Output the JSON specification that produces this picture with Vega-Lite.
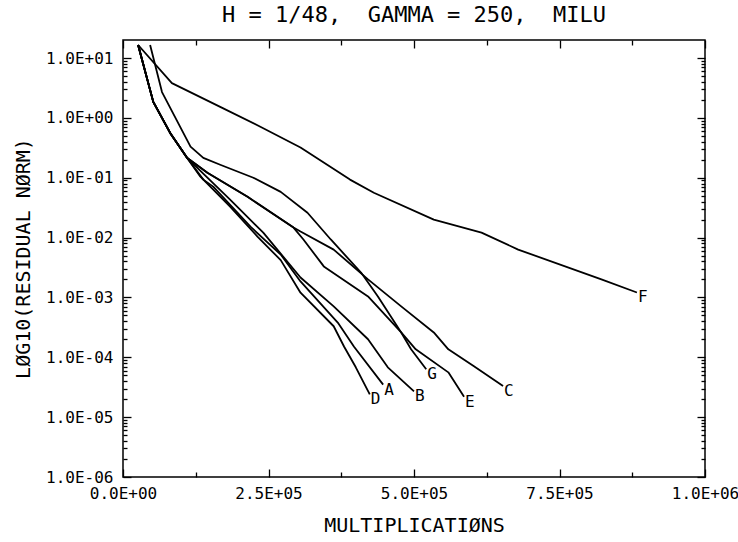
{
  "$schema": "https://vega.github.io/schema/vega-lite/v6.json",
  "width": 582,
  "height": 437,
  "autosize": "none",
  "padding": {"left": 123, "top": 40, "right": 33, "bottom": 65},
  "background": "white",
  "config": {
    "view": {"stroke": "black", "strokeWidth": 1.5},
    "font": "DejaVu Sans Mono",
    "axis": {
      "grid": false,
      "domain": false,
      "tickColor": "black",
      "tickWidth": 1.3,
      "labelColor": "black",
      "titleColor": "black",
      "labelFont": "DejaVu Sans Mono",
      "titleFont": "DejaVu Sans Mono",
      "labelFontSize": 16,
      "titleFontSize": 20,
      "titleFontWeight": "normal",
      "labelOverlap": false,
      "labelFlush": false,
      "labelBound": false
    }
  },
  "title": {
    "text": "H = 1/48,\u00a0\u00a0GAMMA = 250,\u00a0\u00a0MILU",
    "font": "DejaVu Sans Mono",
    "fontSize": 22,
    "fontWeight": "normal",
    "color": "black",
    "anchor": "middle",
    "offset": 12
  },
  "data": {
    "values": [
      {"c": "F", "x": 26000, "y": 16.5},
      {"c": "F", "x": 84000, "y": 3.8},
      {"c": "F", "x": 167000, "y": 1.53},
      {"c": "F", "x": 236000, "y": 0.71},
      {"c": "F", "x": 305000, "y": 0.32},
      {"c": "F", "x": 390000, "y": 0.093},
      {"c": "F", "x": 431000, "y": 0.056},
      {"c": "F", "x": 534000, "y": 0.02},
      {"c": "F", "x": 616000, "y": 0.0121},
      {"c": "F", "x": 679000, "y": 0.0063},
      {"c": "F", "x": 822000, "y": 0.002},
      {"c": "F", "x": 883000, "y": 0.00121},

      {"c": "G", "x": 46600, "y": 16.5},
      {"c": "G", "x": 67000, "y": 2.7},
      {"c": "G", "x": 116000, "y": 0.33},
      {"c": "G", "x": 138000, "y": 0.215},
      {"c": "G", "x": 167000, "y": 0.165},
      {"c": "G", "x": 224000, "y": 0.1},
      {"c": "G", "x": 271000, "y": 0.058},
      {"c": "G", "x": 317000, "y": 0.026},
      {"c": "G", "x": 357000, "y": 0.0093},
      {"c": "G", "x": 409000, "y": 0.0026},
      {"c": "G", "x": 438000, "y": 0.00104},
      {"c": "G", "x": 478000, "y": 0.00026},
      {"c": "G", "x": 495000, "y": 0.000136},
      {"c": "G", "x": 521000, "y": 0.000063},

      {"c": "C", "x": 26000, "y": 16.5},
      {"c": "C", "x": 52000, "y": 1.85},
      {"c": "C", "x": 81000, "y": 0.56},
      {"c": "C", "x": 110000, "y": 0.215},
      {"c": "C", "x": 145000, "y": 0.121},
      {"c": "C", "x": 214000, "y": 0.048},
      {"c": "C", "x": 293000, "y": 0.0147},
      {"c": "C", "x": 305000, "y": 0.0126},
      {"c": "C", "x": 362000, "y": 0.0063},
      {"c": "C", "x": 421000, "y": 0.002},
      {"c": "C", "x": 478000, "y": 0.00071},
      {"c": "C", "x": 534000, "y": 0.00026},
      {"c": "C", "x": 559000, "y": 0.000136},
      {"c": "C", "x": 603000, "y": 0.000071},
      {"c": "C", "x": 653000, "y": 0.000033},

      {"c": "E", "x": 26000, "y": 16.5},
      {"c": "E", "x": 52000, "y": 1.85},
      {"c": "E", "x": 81000, "y": 0.56},
      {"c": "E", "x": 110000, "y": 0.215},
      {"c": "E", "x": 145000, "y": 0.121},
      {"c": "E", "x": 214000, "y": 0.048},
      {"c": "E", "x": 293000, "y": 0.0147},
      {"c": "E", "x": 310000, "y": 0.0093},
      {"c": "E", "x": 345000, "y": 0.0033},
      {"c": "E", "x": 421000, "y": 0.00104},
      {"c": "E", "x": 478000, "y": 0.00026},
      {"c": "E", "x": 503000, "y": 0.000136},
      {"c": "E", "x": 559000, "y": 0.000056},
      {"c": "E", "x": 586000, "y": 0.000022},

      {"c": "B", "x": 26000, "y": 16.5},
      {"c": "B", "x": 52000, "y": 1.85},
      {"c": "B", "x": 81000, "y": 0.56},
      {"c": "B", "x": 110000, "y": 0.215},
      {"c": "B", "x": 184000, "y": 0.043},
      {"c": "B", "x": 241000, "y": 0.0121},
      {"c": "B", "x": 305000, "y": 0.00215},
      {"c": "B", "x": 362000, "y": 0.00071},
      {"c": "B", "x": 421000, "y": 0.0002},
      {"c": "B", "x": 455000, "y": 0.000068},
      {"c": "B", "x": 500000, "y": 0.000027},

      {"c": "A", "x": 26000, "y": 16.5},
      {"c": "A", "x": 52000, "y": 1.85},
      {"c": "A", "x": 81000, "y": 0.56},
      {"c": "A", "x": 110000, "y": 0.215},
      {"c": "A", "x": 138000, "y": 0.093},
      {"c": "A", "x": 155000, "y": 0.071},
      {"c": "A", "x": 219000, "y": 0.0152},
      {"c": "A", "x": 271000, "y": 0.0052},
      {"c": "A", "x": 305000, "y": 0.00185},
      {"c": "A", "x": 369000, "y": 0.00038},
      {"c": "A", "x": 397000, "y": 0.00015},
      {"c": "A", "x": 447000, "y": 0.000035},

      {"c": "D", "x": 26000, "y": 16.5},
      {"c": "D", "x": 52000, "y": 1.85},
      {"c": "D", "x": 81000, "y": 0.56},
      {"c": "D", "x": 110000, "y": 0.215},
      {"c": "D", "x": 133000, "y": 0.104},
      {"c": "D", "x": 184000, "y": 0.033},
      {"c": "D", "x": 231000, "y": 0.0104},
      {"c": "D", "x": 271000, "y": 0.0042},
      {"c": "D", "x": 305000, "y": 0.0012},
      {"c": "D", "x": 362000, "y": 0.00033},
      {"c": "D", "x": 380000, "y": 0.00015},
      {"c": "D", "x": 400000, "y": 0.000068},
      {"c": "D", "x": 424000, "y": 0.000024}
    ]
  },
  "resolve": {"axis": {"x": "independent", "y": "independent"}},
  "layer": [
    {
      "mark": {"type": "line", "color": "black", "strokeWidth": 1.8, "strokeJoin": "round"},
      "encoding": {
        "x": {
          "field": "x", "type": "quantitative",
          "scale": {"domain": [0, 1000000], "nice": false, "zero": false},
          "axis": {
            "orient": "bottom",
            "title": "MULTIPLICATIØNS",
            "values": [0, 125000, 250000, 375000, 500000, 625000, 750000, 875000, 1000000],
            "labelExpr": "datum.value % 250000 == 0 ? upper(replace(format(datum.value, '.1e'), 'e+', 'e+0')) : ''",
            "tickSize": {"condition": {"test": "datum.value % 250000 == 0", "value": -8}, "value": -5},
            "labelPadding": 16,
            "titleY": 48,
            "titleBaseline": "middle"
          }
        },
        "y": {
          "field": "y", "type": "quantitative",
          "scale": {"type": "log", "domain": [0.000001, 20], "nice": false},
          "axis": {
            "orient": "left",
            "title": "LØG10(RESIDUAL NØRM)",
            "values": [1e-6,2e-6,3e-6,4e-6,5e-6,6e-6,7e-6,8e-6,9e-6,1e-5,2e-5,3e-5,4e-5,5e-5,6e-5,7e-5,8e-5,9e-5,1e-4,2e-4,3e-4,4e-4,5e-4,6e-4,7e-4,8e-4,9e-4,1e-3,2e-3,3e-3,4e-3,5e-3,6e-3,7e-3,8e-3,9e-3,1e-2,2e-2,3e-2,4e-2,5e-2,6e-2,7e-2,8e-2,9e-2,0.1,0.2,0.3,0.4,0.5,0.6,0.7,0.8,0.9,1,2,3,4,5,6,7,8,9,10],
            "labelExpr": "abs(log(datum.value)/LN10 - round(log(datum.value)/LN10)) < 0.01 ? '1.0E' + (round(log(datum.value)/LN10) < 0 ? '-0' : '+0') + abs(round(log(datum.value)/LN10)) : ''",
            "tickSize": {"condition": {"test": "abs(log(datum.value)/LN10 - round(log(datum.value)/LN10)) < 0.01", "value": -8}, "value": -4},
            "labelPadding": 18,
            "titleX": -100,
            "titleY": 218,
            "titleAlign": "center",
            "titleBaseline": "middle",
            "titleAngle": -90
          }
        },
        "detail": {"field": "c", "type": "nominal"}
      }
    },
    {
      "transform": [
        {"joinaggregate": [{"op": "max", "field": "x", "as": "maxx"}], "groupby": ["c"]},
        {"filter": "datum.x == datum.maxx"}
      ],
      "mark": {"type": "text", "align": "left", "baseline": "middle", "dx": 1, "dy": 5, "fontSize": 16, "font": "DejaVu Sans Mono", "color": "black"},
      "encoding": {
        "x": {
          "field": "x", "type": "quantitative",
          "axis": {
            "orient": "top",
            "title": null,
            "labels": false,
            "values": [0, 125000, 250000, 375000, 500000, 625000, 750000, 875000, 1000000],
            "tickSize": {"condition": {"test": "datum.value % 250000 == 0", "value": -8}, "value": -5}
          }
        },
        "y": {
          "field": "y", "type": "quantitative",
          "axis": {
            "orient": "right",
            "title": null,
            "labels": false,
            "values": [1e-6,2e-6,3e-6,4e-6,5e-6,6e-6,7e-6,8e-6,9e-6,1e-5,2e-5,3e-5,4e-5,5e-5,6e-5,7e-5,8e-5,9e-5,1e-4,2e-4,3e-4,4e-4,5e-4,6e-4,7e-4,8e-4,9e-4,1e-3,2e-3,3e-3,4e-3,5e-3,6e-3,7e-3,8e-3,9e-3,1e-2,2e-2,3e-2,4e-2,5e-2,6e-2,7e-2,8e-2,9e-2,0.1,0.2,0.3,0.4,0.5,0.6,0.7,0.8,0.9,1,2,3,4,5,6,7,8,9,10],
            "tickSize": {"condition": {"test": "abs(log(datum.value)/LN10 - round(log(datum.value)/LN10)) < 0.01", "value": -8}, "value": -4}
          }
        },
        "text": {"field": "c", "type": "nominal"}
      }
    }
  ]
}
